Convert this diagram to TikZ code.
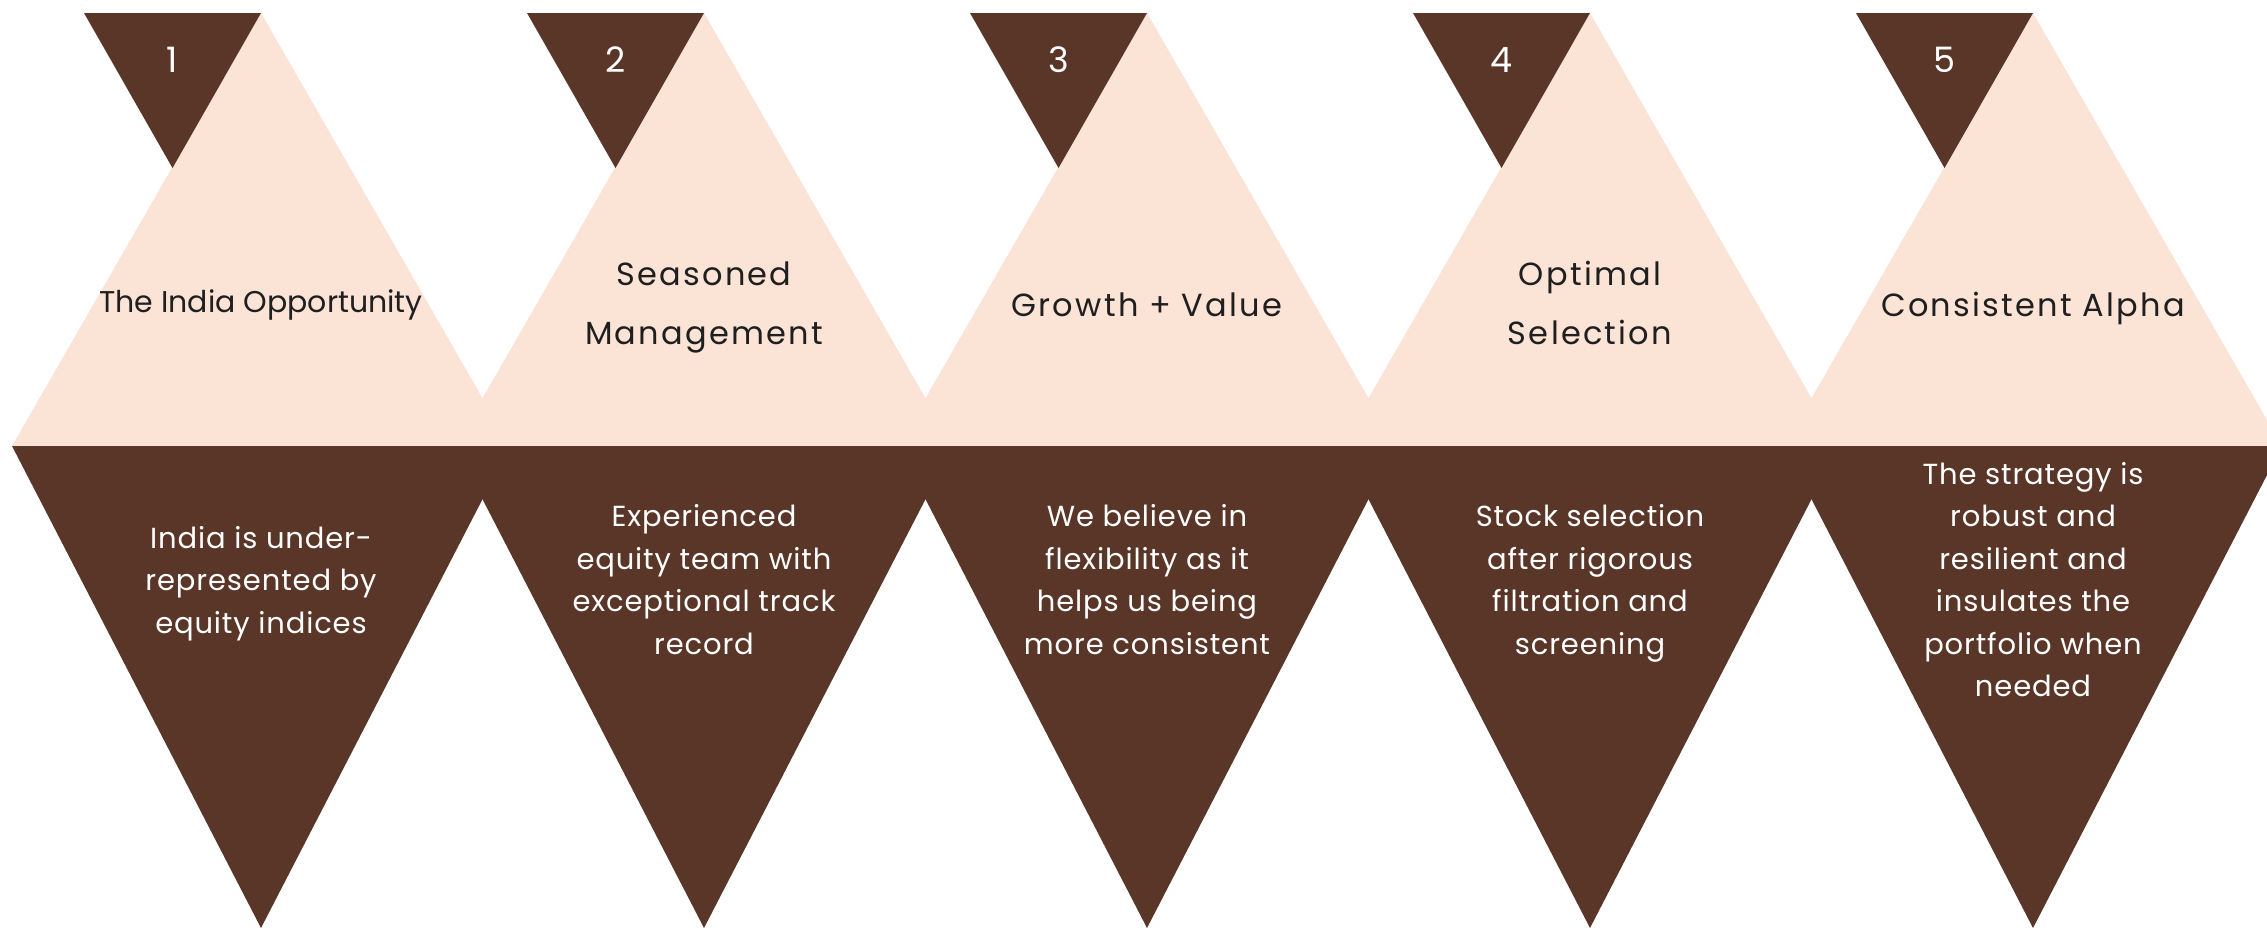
\documentclass[tikz,border=0pt]{standalone}
\usepackage{fontspec}
\setmainfont{Poppins}
\newfontfamily\titlefont[LetterSpace=7]{Poppins}
\newfontfamily\bodyfont[LetterSpace=3]{Poppins}
\definecolor{brownD}{HTML}{5A3628}
\definecolor{peach}{HTML}{FBE3D6}
\tikzset{
  numtxt/.style={text=white, inner sep=0pt, font=\fontsize{35}{40}\selectfont, anchor=base},
  ttl/.style={align=center, inner sep=0pt, text=black!88, font=\titlefont\fontsize{32}{59}\selectfont,
    execute at begin node=\strut, execute at end node=\strut},
  bdy/.style={align=center, inner sep=0pt, text=white, font=\bodyfont\fontsize{29}{42.5}\selectfont,
    execute at begin node=\strut, execute at end node=\strut},
}
\begin{document}
\begin{tikzpicture}[x=1pt,y=-1pt]
\useasboundingbox (0,0) rectangle (2267,930);
\clip (0,0) rectangle (2267,930);
\foreach \i in {0,...,4}{
  \pgfmathsetmacro\d{443*\i}
  \fill[peach] (12+\d,446) -- (261+\d,13) -- (510+\d,446) -- cycle;
  \fill[brownD] (12+\d,446) -- (510+\d,446) -- (261+\d,928) -- cycle;
  \fill[brownD] (84+\d,13) -- (261+\d,13) -- (172.5+\d,168) -- cycle;
}
% numbers
\node[numtxt] (n1) at (172.5,72) {1};
\node[numtxt] (n2) at (615.5,72) {2};
\node[numtxt] (n3) at (1058.5,72) {3};
\node[numtxt] (n4) at (1501.5,72) {4};
\node[numtxt] (n5) at (1944.5,72) {5};
% titles
\node[ttl, font=\fontsize{30}{59}\selectfont] (t1) at (261,301) {The India Opportunity};
\node[ttl] (t2) at (704,312) {Seasoned\\Management};
\node[ttl] (t3) at (1147,305) {Growth + Value};
\node[ttl] (t4) at (1590,312) {Optimal\\Selection};
\node[ttl] (t5) at (2033,305) {Consistent Alpha};
% bodies
\node[bdy] (b1) at (261,586) {India is under-\\represented by\\equity indices};
\node[bdy] (b2) at (704,586) {Experienced\\equity team with\\exceptional track\\record};
\node[bdy] (b3) at (1147,586) {We believe in\\flexibility as it\\helps us being\\more consistent};
\node[bdy] (b4) at (1590,586) {Stock selection\\after rigorous\\filtration and\\screening};
\node[bdy] (b5) at (2033,586) {The strategy is\\robust and\\resilient and\\insulates the\\portfolio when\\needed};
\end{tikzpicture}
\end{document}
